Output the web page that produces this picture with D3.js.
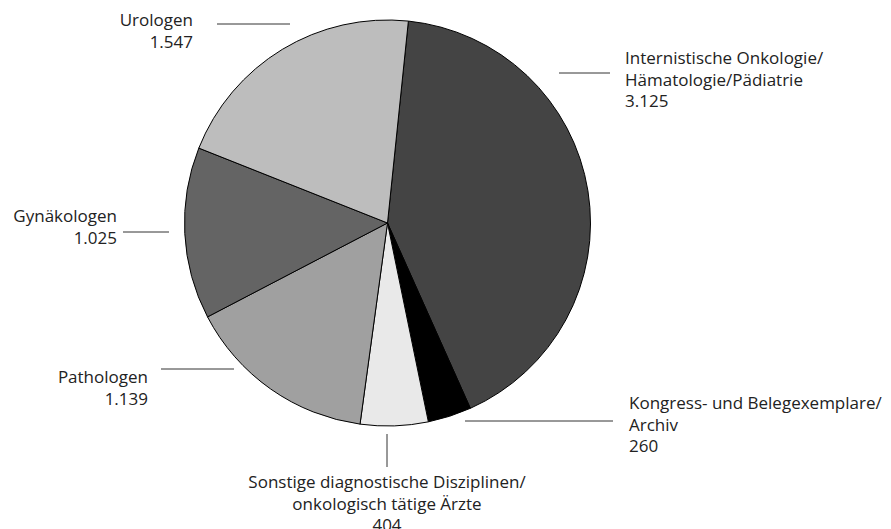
<!DOCTYPE html>
<html><head><meta charset="utf-8">
<script src="https://cdn.jsdelivr.net/npm/d3@7"></script>
<style>body{margin:0;background:#fff}text{font-family:"Open Sans",sans-serif;font-size:17px;fill:#222}</style>
</head><body>
<svg id="c" width="891" height="529"></svg>
<script>
const categories = ["Internistische Onkologie/|Hämatologie/Pädiatrie","Kongress- und Belegexemplare/|Archiv","Sonstige diagnostische Disziplinen/|onkologisch tätige Ärzte","Pathologen","Gynäkologen","Urologen"];
const values = [3125, 260, 404, 1139, 1025, 1547];
const valueLabels = ["3.125","260","404","1.139","1.025","1.547"];
const colors = ["#444444","#000000","#e9e9e9","#a0a0a0","#646464","#bdbdbd"];
// label layout: line x1,x2,y ; text anchor x, first baseline y, alignment
const labelLayout = [
  {lx1:559,lx2:610,ly:73,tx:625,ty:64,anchor:"start"},
  {lx1:465,lx2:613,ly:421,tx:629,ty:409,anchor:"start"},
  {lx1:387,lx2:387,ly:434,ly2:467,tx:387,ty:488,anchor:"middle"},
  {lx1:161,lx2:234,ly:369,tx:148,ty:383,anchor:"end"},
  {lx1:123,lx2:169,ly:232,tx:117,ty:222,anchor:"end"},
  {lx1:217,lx2:290,ly:24,tx:193,ty:26,anchor:"end"}
];
const svg = d3.select("#c");
const cx = 387.5, cy = 223, R = 203;
const start = Math.atan2(21, 203);
const pie = d3.pie().sort(null).value(d=>d).startAngle(start).endAngle(start+2*Math.PI);
const arcs = pie(values);
const arc = d3.arc().innerRadius(0).outerRadius(R);
const g = svg.append("g").attr("transform",`translate(${cx},${cy})`);
g.selectAll("path").data(arcs).join("path").attr("d",arc)
  .attr("fill",(d,i)=>colors[i]).attr("stroke","#000").attr("stroke-width",1);
labelLayout.forEach((L,i)=>{
  svg.append("line").attr("x1",L.lx1).attr("x2",L.lx2).attr("y1",L.ly).attr("y2",L.ly2!==undefined?L.ly2:L.ly)
    .attr("stroke","#333").attr("stroke-width",1);
  const lines = categories[i].split("|").concat([valueLabels[i]]);
  const t = svg.append("text").attr("text-anchor",L.anchor);
  lines.forEach((s,j)=>t.append("tspan").attr("x",L.tx).attr("y",L.ty+j*21.5).text(s));
});
</script>
</body></html>
